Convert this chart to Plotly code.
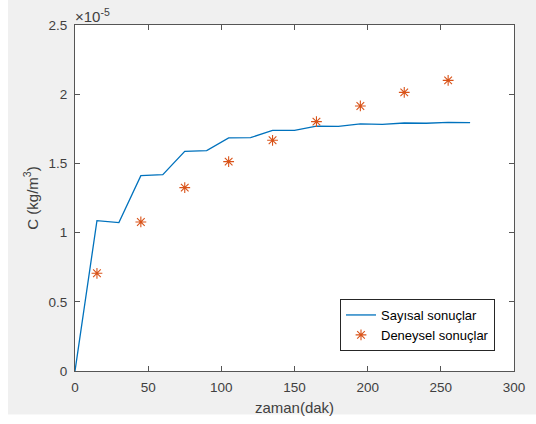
import plotly.graph_objects as go

# Data (concentration in units of 1e-5 kg/m^3)
SCALE = 1e-5
t_num = [0, 15, 30, 45, 60, 75, 90, 105, 120, 135, 150, 165, 180, 195, 210, 225, 240, 255, 270]
c_num = [0, 1.086, 1.072, 1.411, 1.419, 1.587, 1.592, 1.684, 1.686, 1.739, 1.739, 1.770, 1.768,
         1.785, 1.782, 1.792, 1.790, 1.797, 1.795]
t_exp = [15, 45, 75, 105, 135, 165, 195, 225, 255]
c_exp = [0.706, 1.077, 1.325, 1.513, 1.667, 1.802, 1.915, 2.013, 2.100]

x_ticks = [0, 50, 100, 150, 200, 250, 300]
y_ticks = [0, 0.5, 1, 1.5, 2, 2.5]
y_tick_labels = ["0", "0.5", "1", "1.5", "2", "2.5"]

FONT = "Liberation Sans, Arial, sans-serif"
TXT = "#404040"
AX = "#555555"

fig = go.Figure()
fig.add_trace(go.Scatter(
    x=t_num, y=[v * SCALE for v in c_num], mode="lines",
    name="Sayısal sonuçlar", line=dict(color="#0072BD", width=1.3)))
fig.add_trace(go.Scatter(
    x=t_exp, y=[v * SCALE for v in c_exp], mode="markers",
    name="Deneysel sonuçlar",
    marker=dict(symbol="asterisk-open", size=9, color="#D95319",
                line=dict(color="#D95319", width=1.1))))

W, H = 536, 424
L, R, T, B = 75, 22, 25, 53
pw, ph = W - L - R, H - T - B

def px(xp):
    return (xp - L) / pw

def py(yp):
    return (H - B - yp) / ph

fig.update_layout(
    width=W, height=H,
    margin=dict(l=L, r=R, t=T, b=B, pad=0, autoexpand=False),
    paper_bgcolor="#f0f0f0", plot_bgcolor="white",
    font=dict(family=FONT, size=13, color=TXT),
    showlegend=True,
    legend=dict(x=px(495), y=py(351), xanchor="right", yanchor="bottom",
                bgcolor="white", bordercolor="#262626", borderwidth=1,
                font=dict(size=13, color="#000000"),
                tracegroupgap=0, itemwidth=30),
    xaxis=dict(range=[0, 300], tickvals=x_ticks, ticks="inside", ticklen=5,
               tickcolor=AX, showline=True, linecolor=AX, linewidth=1,
               mirror="ticks", showgrid=False, zeroline=False, ticklabelstandoff=4,
               automargin=False,
               title=dict(text="zaman(dak)", font=dict(size=15, color=TXT), standoff=8),
               tickfont=dict(size=13.5, color=TXT)),
    yaxis=dict(range=[0, 2.5 * SCALE], tickvals=[v * SCALE for v in y_ticks],
               ticktext=y_tick_labels, ticks="inside", ticklen=5,
               tickcolor=AX, showline=True, linecolor=AX, linewidth=1,
               mirror="ticks", showgrid=False, zeroline=False, ticklabelstandoff=4,
               automargin=False,
               title=dict(text="C (kg/m<sup>3</sup>)", font=dict(size=15, color=TXT), standoff=6),
               tickfont=dict(size=13.5, color=TXT)),
    shapes=[
        dict(type="rect", xref="paper", yref="paper", x0=px(0), x1=px(8), y0=py(H), y1=py(0),
             fillcolor="white", line=dict(width=0), layer="below"),
        dict(type="rect", xref="paper", yref="paper", x0=px(0), x1=px(W), y0=py(H), y1=py(414.5),
             fillcolor="white", line=dict(width=0), layer="below"),
    ],
    annotations=[
        dict(text="×10<sup>-5</sup>", xref="paper", yref="paper", x=0, y=1,
             xanchor="left", yanchor="bottom", showarrow=False,
             font=dict(size=15, color=TXT), yshift=-2, xshift=-2),
    ],
)

fig.write_html("out.html")
